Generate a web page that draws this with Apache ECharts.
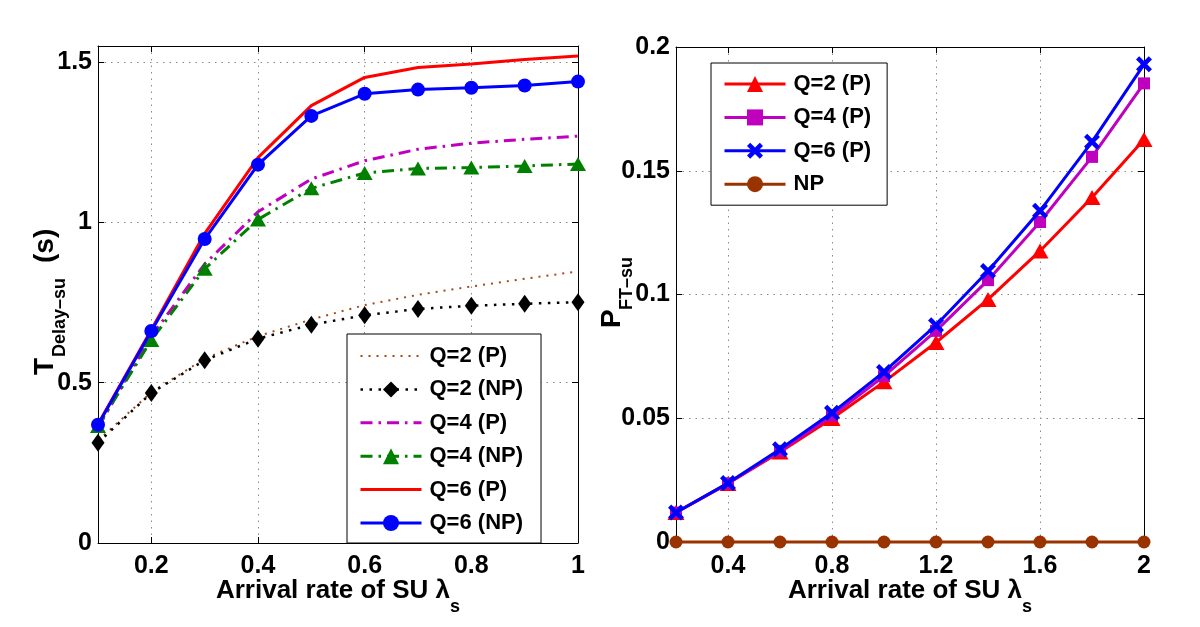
<!DOCTYPE html>
<html><head><meta charset="utf-8">
<script src="https://cdn.jsdelivr.net/npm/echarts@6/dist/echarts.min.js"></script>
<style>html,body{margin:0;padding:0;background:#fff}#c{width:1200px;height:627px}</style>
</head><body><div id="c"></div>
<script>
const FONT = '"Liberation Sans", Arial, Helvetica, sans-serif';

// ---------- Left panel: delay ----------
const lambdaLeft = [0.1, 0.2, 0.3, 0.4, 0.5, 0.6, 0.7, 0.8, 0.9, 1.0];
const delayQ2P  = [0.320, 0.470, 0.575, 0.645, 0.697, 0.742, 0.774, 0.800, 0.824, 0.847];
const delayQ2NP = [0.313, 0.468, 0.570, 0.637, 0.681, 0.710, 0.730, 0.740, 0.746, 0.751];
const delayQ4P  = [0.360, 0.645, 0.870, 1.033, 1.135, 1.192, 1.228, 1.247, 1.259, 1.269];
const delayQ4NP = [0.365, 0.633, 0.855, 1.009, 1.106, 1.154, 1.168, 1.171, 1.176, 1.182];
const delayQ6P  = [0.370, 0.665, 0.965, 1.202, 1.364, 1.452, 1.483, 1.494, 1.508, 1.519];
const delayQ6NP = [0.369, 0.661, 0.948, 1.180, 1.332, 1.401, 1.414, 1.420, 1.427, 1.439];
const leftNames = ['Q=2 (P)', 'Q=2 (NP)', 'Q=4 (P)', 'Q=4 (NP)', 'Q=6 (P)', 'Q=6 (NP)'];
const leftXTicks = [0.2, 0.4, 0.6, 0.8, 1];
const leftYTicks = [0, 0.5, 1, 1.5];

// ---------- Right panel: forced termination probability ----------
const lambdaRight = [0.2, 0.4, 0.6, 0.8, 1.0, 1.2, 1.4, 1.6, 1.8, 2.0];
const pftQ2P = [0.0119, 0.0236, 0.0364, 0.0499, 0.0647, 0.0806, 0.0980, 0.1176, 0.1392, 0.1626];
const pftQ4P = [0.0119, 0.0237, 0.0368, 0.0510, 0.0670, 0.0853, 0.1058, 0.1293, 0.1556, 0.1853];
const pftQ6P = [0.0119, 0.0238, 0.0375, 0.0522, 0.0687, 0.0876, 0.1095, 0.1338, 0.1617, 0.1930];
const pftNP  = [0, 0, 0, 0, 0, 0, 0, 0, 0, 0];
const rightNames = ['Q=2 (P)', 'Q=4 (P)', 'Q=6 (P)', 'NP'];
const rightXTicks = [0.4, 0.8, 1.2, 1.6, 2];
const rightYTicks = [0, 0.05, 0.1, 0.15, 0.2];

// ---------- styles ----------
const DASHDOT = [12, 6, 2.5, 6];
const leftStyles = [
  {color: '#a8461a', width: 2, type: [2, 6], symbol: 'none', size: 0},
  {color: '#000000', width: 2.5, type: [2.5, 6.5], symbol: 'diamond', size: [13, 18]},
  {color: '#bf00bf', width: 3, type: DASHDOT, symbol: 'none', size: 0},
  {color: '#008000', width: 3, type: DASHDOT, symbol: 'triangle', size: [16, 14]},
  {color: '#ff0000', width: 3, type: 'solid', symbol: 'none', size: 0},
  {color: '#0000ff', width: 3, type: 'solid', symbol: 'circle', size: 14}
];
const XMARK = 'path://M0,2 L2,0 L5,3 L8,0 L10,2 L7,5 L10,8 L8,10 L5,7 L2,10 L0,8 L3,5 Z';
const rightStyles = [
  {color: '#ff0000', width: 3, type: 'solid', symbol: 'triangle', size: [17, 15]},
  {color: '#bf00bf', width: 3, type: 'solid', symbol: 'rect', size: 12},
  {color: '#0000ff', width: 3, type: 'solid', symbol: XMARK, size: 16},
  {color: '#993300', width: 3, type: 'solid', symbol: 'circle', size: 13}
];

const leftValues = [delayQ2P, delayQ2NP, delayQ4P, delayQ4NP, delayQ6P, delayQ6NP];
const rightValues = [pftQ2P, pftQ4P, pftQ6P, pftNP];
const RPFX = 'R:';

function pairs(xs, ys) { return xs.map((x, i) => [x, ys[i]]); }

const labelStyle = {color: '#000', fontSize: 25, fontWeight: 'bold', fontFamily: FONT};
const gridLine = {show: true, lineStyle: {color: '#8a8a8a', type: [1.5, 5], width: 1}};
const boxLine = {show: true, onZero: false, lineStyle: {color: '#000', width: 1}};

function axis(grid, min, max, ticks, position, main, margin) {
  return {
    type: 'value', gridIndex: grid, min: min, max: max, position: position,
    axisLine: boxLine,
    axisTick: {show: true, inside: true, length: 6, customValues: ticks, lineStyle: {color: '#000', width: 1}},
    axisLabel: Object.assign({show: main, customValues: ticks, margin: margin}, labelStyle),
    splitLine: main ? gridLine : {show: false},
    z: 5
  };
}

function series(name, xIdx, yIdx, xs, ys, st, z) {
  return {
    type: 'line', name: name, xAxisIndex: xIdx, yAxisIndex: yIdx,
    data: pairs(xs, ys),
    symbol: st.symbol, symbolSize: st.size, showSymbol: st.symbol !== 'none',
    lineStyle: {color: st.color, width: st.width, type: st.type, cap: 'butt'},
    itemStyle: {color: st.color, borderWidth: 0},
    clip: false, animation: false, z: z
  };
}

const allSeries = [];
leftNames.forEach((n, i) => allSeries.push(series(n, 0, 0, lambdaLeft, leftValues[i], leftStyles[i], 10 + i)));
rightNames.forEach((n, i) => allSeries.push(series(RPFX + n, 2, 2, lambdaRight, rightValues[i], rightStyles[i], 10 + i)));

// legend entries: hide the marker for line-only series
function legendItems(names, styles, prefix) {
  return names.map((n, i) => styles[i].symbol === 'none'
    ? {name: prefix + n, itemStyle: {opacity: 0, color: 'rgba(0,0,0,0)'}}
    : {name: prefix + n});
}

// text measuring for titles with subscripts
const mctx = document.createElement('canvas').getContext('2d');
function tw(str, size) { mctx.font = 'bold ' + size + 'px ' + FONT; return mctx.measureText(str).width; }
function txt(str, size, x, y, rot) {
  return {type: 'text', x: x, y: y, rotation: rot || 0, silent: true, z: 50,
    style: {text: str, fill: '#000', fontSize: size, fontWeight: 'bold', fontFamily: FONT, align: 'left', verticalAlign: 'middle'}};
}
function xTitle(cx) {
  const main = 'Arrival rate of SU \u03bb', sub = 's';
  const wm = tw(main, 26), ws = tw(sub, 18);
  const x0 = cx - (wm + ws) / 2;
  return [txt(main, 26, x0, 591, 0), txt(sub, 18, x0 + wm, 607, 0)];
}

const legendCommon = {
  orient: 'vertical', itemWidth: 61, itemHeight: 20, itemGap: 11.4,
  backgroundColor: '#fff', borderColor: '#000', borderWidth: 1, borderRadius: 0,
  selectedMode: false, z: 20,
  lineStyle: {width: 'inherit', type: 'inherit', color: 'inherit'},
  textStyle: {fontSize: 22, fontWeight: 'bold', color: '#000', fontFamily: FONT, lineHeight: 20, padding: [0, 0, 0, 3]}
};

const option = {
  backgroundColor: '#fff',
  animation: false,
  grid: [
    {left: 98, top: 46, width: 480, height: 497, show: false},
    {left: 676, top: 47, width: 468, height: 495, show: false}
  ],
  xAxis: [
    axis(0, 0.1, 1, leftXTicks, 'bottom', true, 11),
    axis(0, 0.1, 1, leftXTicks, 'top', false, 8),
    axis(1, 0.2, 2, rightXTicks, 'bottom', true, 12),
    axis(1, 0.2, 2, rightXTicks, 'top', false, 8)
  ],
  yAxis: [
    axis(0, 0, 1.55, leftYTicks, 'left', true, 6),
    axis(0, 0, 1.55, leftYTicks, 'right', false, 8),
    axis(1, 0, 0.2, rightYTicks, 'left', true, 6),
    axis(1, 0, 0.2, rightYTicks, 'right', false, 8)
  ],
  legend: [
    Object.assign({}, legendCommon, {left: 347, top: 334, padding: [11, 18, 9, 12],
      data: legendItems(leftNames, leftStyles, '')}),
    Object.assign({}, legendCommon, {left: 711, top: 63, padding: [10, 16, 10, 12],
      data: legendItems(rightNames, rightStyles, RPFX), formatter: n => n.replace(RPFX, '')})
  ],
  series: allSeries,
  graphic: [].concat(
    xTitle(338), xTitle(910),
    [
      txt('T', 28, 45.5, 375, Math.PI / 2),
      txt('Delay\u2013su', 18, 60, 357, Math.PI / 2),
      txt('(s)', 28, 45, 263, Math.PI / 2),
      txt('P', 28, 612.5, 328, Math.PI / 2),
      txt('FT\u2013su', 18, 627, 310, Math.PI / 2)
    ]
  )
};

const chart = echarts.init(document.getElementById('c'), null, {renderer: 'canvas'});
chart.setOption(option);
</script></body></html>
